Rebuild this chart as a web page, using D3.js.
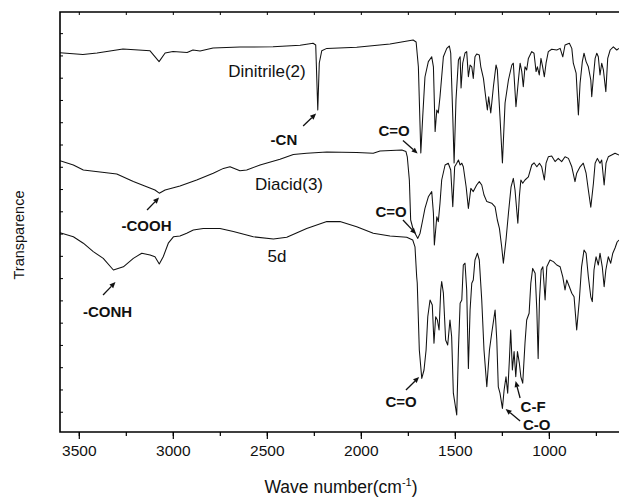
<!DOCTYPE html>
<html><head><meta charset="utf-8">
<script src="https://cdn.jsdelivr.net/npm/d3@7"></script>
<style>
html,body{margin:0;padding:0;background:#fff;}
svg{display:block;font-family:"Liberation Sans",Arial,Helvetica,sans-serif;}
</style></head>
<body>
<svg id="chart" width="619" height="498"></svg>
<script>
// ---------- DATA (wavenumber cm-1, transmittance in arbitrary %) ----------
const dinitrileWn = [3600,3478,3403,3265,3121,3073,3041,2999,2924,2893,2855,2786,2643,2467,2323,2254,2240,2229,2221,2208,2181,2022,1845,1722,1706,1694,1681,1671,1659,1641,1623,1614,1605,1596,1588,1579,1561,1543,1529,1522,1511,1504,1494,1481,1472,1467,1458,1446,1437,1428,1419,1410,1402,1393,1384,1370,1362,1348,1334,1327,1320,1309,1295,1281,1274,1260,1247,1233,1215,1197,1189,1175,1162,1153,1144,1136,1127,1118,1109,1091,1079,1068,1061,1051,1042,1033,1024,1015,1003,985,958,940,926,914,891,878,870,855,843,834,822,813,802,790,777,772,763,754,745,737,728,719,710,697,687,674,657,639,627];
const dinitrileT  = [94.8,94.4,94.75,95.75,95.3,92.6,94.75,95.1,94.9,95.5,95.25,96,96.25,96.3,96.7,97.2,96.75,80.5,92.25,95.3,95.9,96.2,97,98,97.5,91.3,69.75,78.75,88.75,92.6,93.8,91.3,75.1,80.5,79.75,83.8,93.8,95.9,96.5,94.75,78.8,67.25,83,93,93.8,86,92.25,94.75,95.1,88.8,91.75,91.3,88.4,93.8,94.5,94.25,91.3,88.4,83,80.5,83.8,79.75,86.3,91.75,90.5,78.8,67.25,82.25,88,91.75,92.2,81.3,88,92.2,90.1,86.3,91.3,90.5,93.4,95.1,94.7,90.1,91.3,89.25,93.4,91.3,88.8,92.2,95.1,95.7,95.5,95.9,93.8,96.75,97.2,95.9,92.2,89.7,79.25,87.2,92.6,94.7,92.6,91.3,88,83.8,88.8,93.4,94.7,93.8,89.25,92.2,90.5,85.1,93.4,95.5,96.3,95.5,95.9];

const diacidWn = [3600,3529,3476,3387,3298,3210,3139,3095,3072,3041,2962,2873,2785,2731,2696,2643,2607,2536,2430,2359,2288,2181,2022,1934,1898,1782,1760,1753,1742,1735,1721,1697,1685,1671,1659,1641,1623,1614,1609,1596,1588,1579,1570,1552,1535,1522,1511,1501,1490,1481,1472,1463,1455,1440,1428,1415,1402,1384,1370,1357,1345,1330,1304,1286,1274,1263,1251,1242,1228,1215,1201,1189,1180,1165,1157,1149,1139,1127,1109,1091,1079,1064,1050,1038,1024,1015,1003,985,967,950,932,914,896,878,861,852,834,817,802,790,777,763,754,742,728,719,706,696,684,666,648,627];
const diacidT  = [67.8,66.75,65.5,65,64.5,62.6,61.3,60.5,59.7,60.5,61.5,63,64.7,65.9,66.3,65.3,65.5,66.75,68.2,69.4,69.7,70,69.9,69.7,70.25,70.5,70.1,68.8,63,53,50.5,48.4,49.7,53,55.9,58.8,60.1,54.7,46.75,53.8,52.6,57.2,63,66.75,67.2,65.5,56.3,66.3,67.2,68,66.75,67.2,66.3,61.3,55.9,60.9,60.1,61.75,62.6,61.75,59.25,57.6,57.2,56.3,53,50.9,46.3,42.2,48,54.7,61.3,63.4,60.5,52.2,58.8,63,62.2,63,63.8,66.75,67.3,66.3,67.2,66.3,63,67.2,68.8,69,67.6,68.4,67.6,68.8,68.4,66.3,62.6,64.7,66.3,67.2,64.7,60.5,56.2,62.2,67.2,68.4,67.2,68,61.75,67.2,68.8,69.25,69.7,69.25];

const d5Wn = [3600,3529,3476,3423,3370,3316,3263,3210,3165,3121,3095,3072,3051,3024,2997,2962,2926,2891,2838,2749,2678,2572,2465,2394,2288,2181,2111,2022,1934,1845,1756,1724,1712,1703,1700,1689,1676,1664,1653,1644,1632,1620,1611,1602,1593,1584,1575,1570,1561,1549,1538,1526,1517,1508,1490,1481,1472,1463,1455,1446,1437,1428,1419,1410,1402,1393,1380,1370,1357,1345,1330,1316,1304,1286,1277,1269,1260,1247,1238,1228,1219,1210,1203,1194,1185,1176,1167,1157,1149,1139,1127,1118,1105,1096,1086,1073,1064,1057,1050,1041,1032,1020,1011,994,976,958,940,926,914,905,891,878,866,852,838,826,813,802,790,777,769,760,749,737,728,716,706,697,684,671,660,648,637,627];
const d5T  = [49.8,48.8,47.2,45.1,43.4,40.5,41.3,43.4,44.7,44.25,43.8,42,43.8,47.2,48.8,49,49.7,50.5,50.9,50.9,50.1,48.8,48.25,48.7,50.9,52.6,52.6,51.3,49.7,49,48.7,48,46.3,38.8,37.25,20.5,13.4,15.5,20.5,28.8,33,31.75,22.2,28.8,28,25.5,35.5,37.6,34.7,23,21.75,28,23.8,9.7,4.25,20.5,32.2,33,41.75,42.2,35.5,15.9,30.5,37.2,38,43,44.7,43,33,20.5,11.3,20.5,24.7,30.5,23,11.3,9.7,5.9,10.5,13.8,9.7,18,25.5,15.5,20.1,13.8,20.1,17.2,13.8,12.2,22.2,28,29.7,37.2,40.9,39.7,30.5,18.4,33,40.5,41.3,33,41.3,43,42.6,41.75,41.3,38.8,35.5,38,36.3,34.7,33.8,25.5,33,41.3,45.5,44.7,38.8,33.8,32.6,40.5,43.8,41.75,44.7,41.3,36.3,40.5,43.8,42.2,44.7,46,47.5,48];

const seriesNames = ["Dinitrile(2)", "Diacid(3)", "5d"];
const xTickLabels = [3500, 3000, 2500, 2000, 1500, 1000];
const xMinorTicks = [3500,3250,3000,2750,2500,2250,2000,1750,1500,1250,1000,750];
const yTickValues = [0,1,2,3,4,5,6,7,8,9,10,11,12,13,14,15,16,17];

// annotation labels: [text, wavenumber, T, bold]
const annLabels = [
  ["Dinitrile(2)", 2499, 88.75, false],
  ["Diacid(3)", 2382, 60.5, false],
  ["5d", 2446, 42.6, false],
  ["-CN", 2409, 71.75, true],
  ["C=O", 1823, 74, true],
  ["-COOH", 3140, 50.25, true],
  ["C=O", 1839, 53.75, true],
  ["-CONH", 3347, 28.75, true],
  ["C=O", 1786, 6.25, true],
  ["C-F", 1084, 5, true],
  ["C-O", 1065, 0.5, true]
];
// arrows: [tailWn, tailT, headWn, headT]
const annArrows = [
  [2307, 76.5, 2238, 79.6],
  [1776, 72.9, 1698, 69.6],
  [3137, 55.5, 3073, 58.6],
  [1776, 53, 1706, 49.5],
  [3371, 34.25, 3305, 37.5],
  [1760, 10.5, 1690, 13.75],
  [1153, 8.5, 1177, 12.75],
  [1153, 2.75, 1230, 5.75]
];

// ---------- LAYOUT ----------
const svg = d3.select("#chart");
const PL = 60, PR = 619, PT = 12, PB = 432;
const x = d3.scaleLinear().domain([3600, 627]).range([PL, PR]);
const y = d3.scaleLinear().domain([0, 105]).range([PB, PT]);
const yAxisScale = d3.scaleLinear().domain([-0.91, 17.95]).range([PB, PT]);

svg.append("defs").append("clipPath").attr("id","clip")
  .append("rect").attr("x", PL).attr("y", PT).attr("width", PR - PL).attr("height", PB - PT);

const series = [
  dinitrileWn.map((w,i)=>[w, dinitrileT[i]]),
  diacidWn.map((w,i)=>[w, diacidT[i]]),
  d5Wn.map((w,i)=>[w, d5T[i]])
];
const lineGen = d3.line().x(d=>x(d[0])).y(d=>y(d[1]));
const gLines = svg.append("g").attr("clip-path","url(#clip)");
series.forEach(s=>{
  gLines.append("path").attr("d", lineGen(s)).attr("fill","none")
    .attr("stroke","#111").attr("stroke-width",1.05).attr("stroke-linejoin","round");
});

const axisColor = "#000";
// bottom axis
const gBottom = svg.append("g").attr("transform",`translate(0,${PB})`);
gBottom.call(d3.axisBottom(x).tickValues(xMinorTicks).tickSize(4).tickFormat(""))
  .call(a=>a.select(".domain").remove());
gBottom.append("g").call(d3.axisBottom(x).tickValues(xTickLabels).tickSize(7).tickPadding(6).tickFormat(d3.format("d")))
  .call(a=>a.select(".domain").remove())
  .call(a=>a.selectAll("text").attr("font-size",15.5).attr("fill","#111").attr("font-family","Liberation Sans, Arial, sans-serif"));
gBottom.selectAll("line").attr("stroke",axisColor).attr("stroke-width",1.2);
// top axis (inward ticks)
const gTop = svg.append("g").attr("transform",`translate(0,${PT})`);
gTop.call(d3.axisBottom(x).tickValues(xMinorTicks).tickSize(3).tickFormat(""))
  .call(a=>a.select(".domain").remove());
gTop.selectAll("line").attr("stroke",axisColor).attr("stroke-width",1);
// left axis (inward ticks)
const gLeft = svg.append("g").attr("transform",`translate(${PL},0)`);
gLeft.call(d3.axisRight(yAxisScale).tickValues(yTickValues).tickSize(3).tickFormat(""))
  .call(a=>a.select(".domain").remove());
gLeft.selectAll("line").attr("stroke",axisColor).attr("stroke-width",1);

// frame lines (left, top, bottom)
svg.append("path").attr("d",`M${PR},${PT}H${PL}V${PB}H${PR}`)
  .attr("fill","none").attr("stroke","#000").attr("stroke-width",1.6);

// axis titles
const xt = svg.append("text").attr("x", 341).attr("y", 493).attr("text-anchor","middle")
  .attr("font-size",17.5).attr("fill","#111");
xt.append("tspan").text("Wave number(cm");
xt.append("tspan").attr("dy",-7).attr("font-size",11).text("-1");
xt.append("tspan").attr("dy",7).text(")");

svg.append("text").attr("transform","translate(24,235) rotate(-90)")
  .attr("text-anchor","middle").attr("font-size",14.5).attr("fill","#111").text("Transparence");

// annotations
annLabels.forEach(([t,w,v,b])=>{
  svg.append("text").attr("x",x(w)).attr("y",y(v)).attr("text-anchor","middle")
    .attr("font-size", b?15:17).attr("font-weight", b?"bold":"normal").attr("fill","#111").text(t);
});
annArrows.forEach(([w1,v1,w2,v2])=>{
  const x1=x(w1), y1=y(v1), x2=x(w2), y2=y(v2);
  const dx=x2-x1, dy=y2-y1, len=Math.hypot(dx,dy), ux=dx/len, uy=dy/len;
  const hl=6, hw=2.6;
  const bx=x2-ux*hl, by=y2-uy*hl;
  svg.append("line").attr("x1",x1).attr("y1",y1).attr("x2",bx).attr("y2",by)
    .attr("stroke","#111").attr("stroke-width",1.3);
  svg.append("path").attr("d",`M${x2},${y2}L${bx-uy*hw},${by+ux*hw}L${bx+uy*hw},${by-ux*hw}Z`)
    .attr("fill","#111");
});
</script>
</body></html>
